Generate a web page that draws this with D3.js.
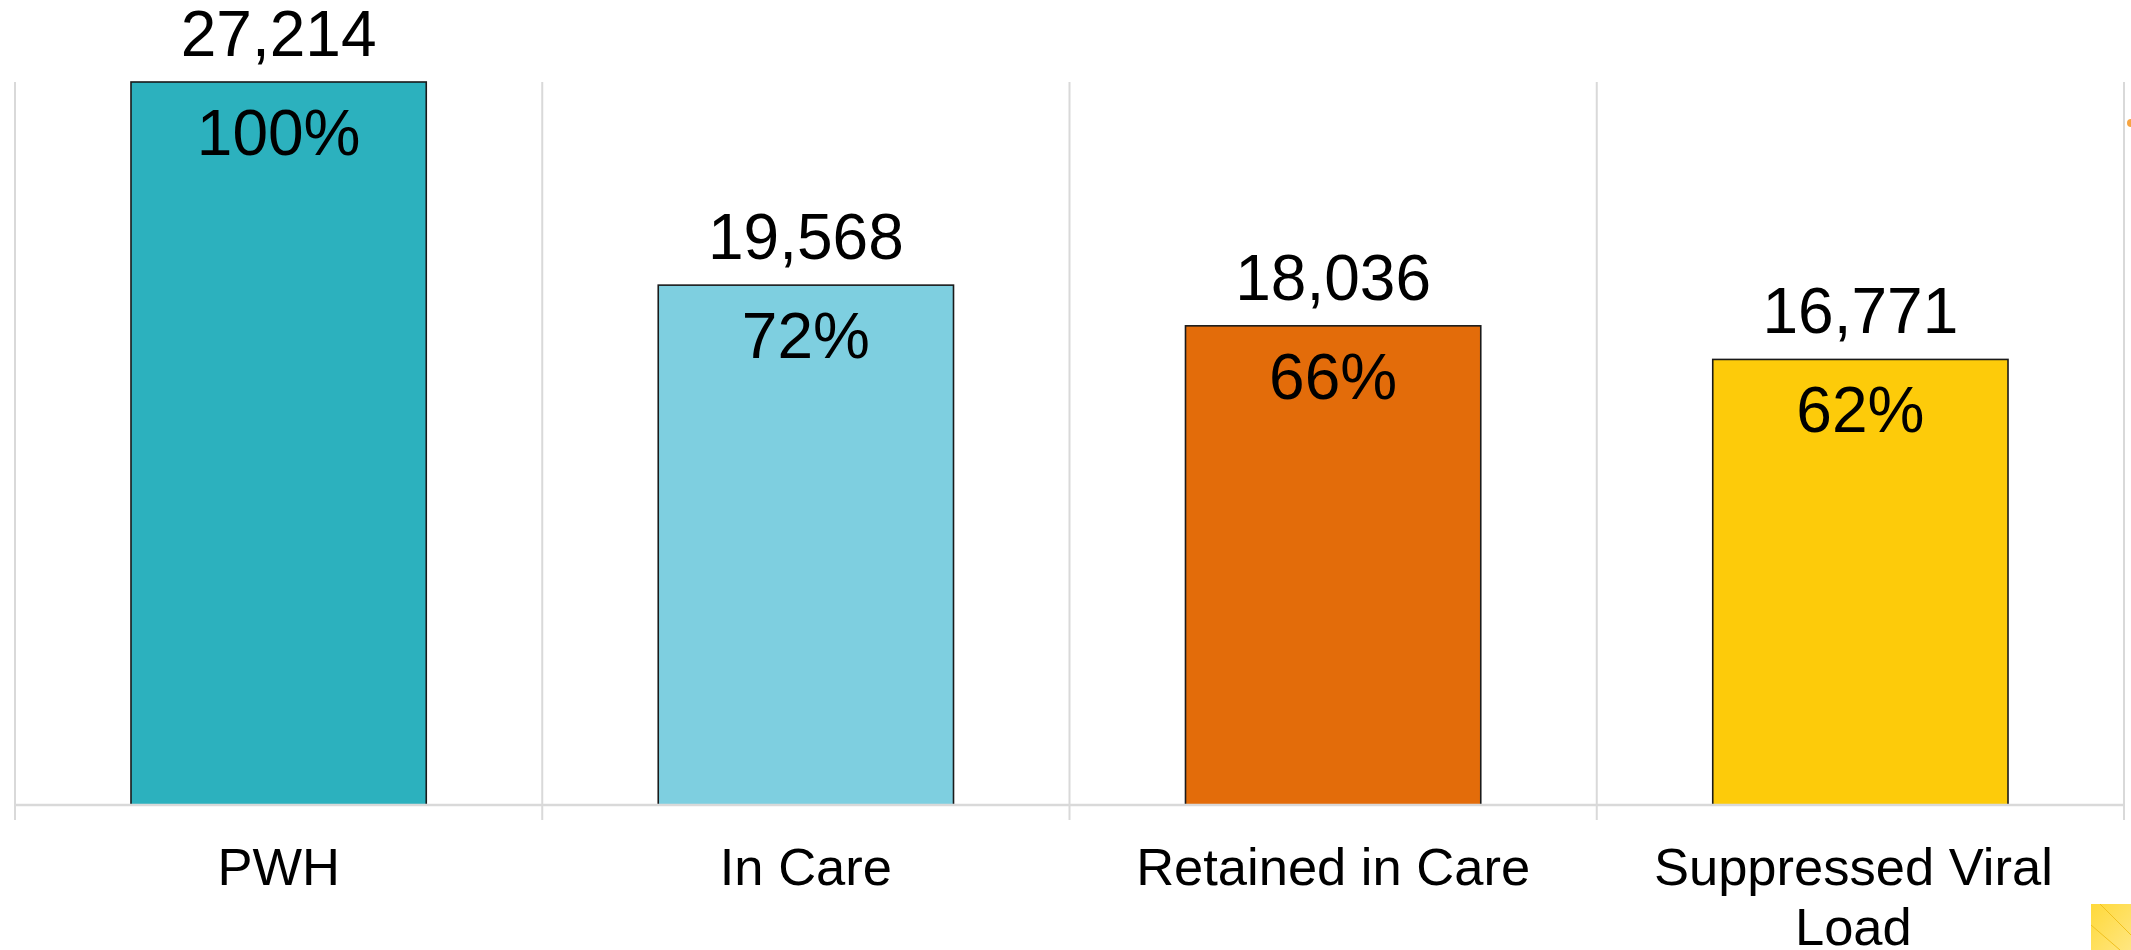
<!DOCTYPE html>
<html>
<head>
<meta charset="utf-8">
<script src="https://cdn.jsdelivr.net/npm/d3@7"></script>
<style>
  html, body { margin: 0; padding: 0; background: #ffffff; }
  svg { display: block; font-family: "Liberation Sans", Arial, sans-serif; }
</style>
</head>
<body>
<svg id="chart" width="2131" height="950"></svg>
<script>
const categories = ["PWH", "In Care", "Retained in Care", "Suppressed Viral Load"];
const categoryLines = [["PWH"], ["In Care"], ["Retained in Care"], ["Suppressed Viral", "Load"]];
const counts = [27214, 19568, 18036, 16771];
const percents = ["100%", "72%", "66%", "62%"];
const colors = ["#2CB1BE", "#7ECFE0", "#E36C0A", "#FDCB0A"];

const svg = d3.select("#chart");
const margin = { left: 15, right: 7, top: 82, bottom: 145 };
const W = 2131, H = 950;
const plotBottom = H - margin.bottom; // 805

const x = d3.scaleBand()
  .domain(categories)
  .range([margin.left, W - margin.right])
  .paddingInner(0.44)
  .paddingOuter(0.22);

const y = d3.scaleLinear()
  .domain([0, 27214])
  .range([plotBottom, margin.top]);

const bounds = d3.range(categories.length + 1).map(i => margin.left + i * (W - margin.left - margin.right) / categories.length);

svg.append("g").selectAll("line.grid")
  .data(bounds)
  .join("line")
  .attr("x1", d => d).attr("x2", d => d)
  .attr("y1", margin.top).attr("y2", plotBottom + 15)
  .attr("stroke", "#d9d9d9").attr("stroke-width", 2);

// bars
svg.append("g").selectAll("rect")
  .data(categories)
  .join("rect")
  .attr("x", d => x(d))
  .attr("width", x.bandwidth())
  .attr("y", (d, i) => y(counts[i]))
  .attr("height", (d, i) => plotBottom - y(counts[i]))
  .attr("fill", (d, i) => colors[i])
  .attr("stroke", "#1a1a1a")
  .attr("stroke-width", 1.6);

// baseline
svg.append("line")
  .attr("x1", margin.left).attr("x2", W - margin.right)
  .attr("y1", plotBottom).attr("y2", plotBottom)
  .attr("stroke", "#d9d9d9").attr("stroke-width", 2.5);

// value labels above
svg.append("g").selectAll("text.val")
  .data(categories)
  .join("text")
  .attr("x", d => x(d) + x.bandwidth() / 2)
  .attr("y", (d, i) => y(counts[i]) - 26)
  .attr("text-anchor", "middle")
  .attr("font-size", 64)
  .attr("fill", "#000")
  .text((d, i) => d3.format(",")(counts[i]));

// percent labels inside
svg.append("g").selectAll("text.pct")
  .data(categories)
  .join("text")
  .attr("x", d => x(d) + x.bandwidth() / 2)
  .attr("y", (d, i) => y(counts[i]) + 73)
  .attr("text-anchor", "middle")
  .attr("font-size", 64)
  .attr("fill", "#000")
  .text((d, i) => percents[i]);

// category labels
const catG = svg.append("g").selectAll("text.cat")
  .data(categories)
  .join("text")
  .attr("text-anchor", "middle")
  .attr("font-size", 52.5)
  .attr("fill", "#000");
catG.each(function(d, i) {
  const t = d3.select(this);
  const shift = categoryLines[i].length > 1 ? -7 : 0;
  categoryLines[i].forEach((line, j) => {
    t.append("tspan")
      .attr("x", x(d) + x.bandwidth() / 2 + shift)
      .attr("y", 885 + j * 60)
      .text(line);
  });
});

// slide decorations
const defs = svg.append("defs");
const grad = defs.append("linearGradient").attr("id", "yg").attr("x1", 0).attr("y1", 0).attr("x2", 1).attr("y2", 1);
grad.append("stop").attr("offset", 0).attr("stop-color", "#FFD93A");
grad.append("stop").attr("offset", 1).attr("stop-color", "#FFE680");
svg.append("rect").attr("x", 2091).attr("y", 904).attr("width", 40).attr("height", 46).attr("fill", "url(#yg)");
svg.append("line").attr("x1", 2100).attr("y1", 904).attr("x2", 2131).attr("y2", 935).attr("stroke", "#F0C020").attr("stroke-width", 1);
svg.append("line").attr("x1", 2091).attr("y1", 925).attr("x2", 2120).attr("y2", 950).attr("stroke", "#F0C020").attr("stroke-width", 1);
svg.append("circle").attr("cx", 2131).attr("cy", 123).attr("r", 4).attr("fill", "#F7A541");
</script>
</body>
</html>
